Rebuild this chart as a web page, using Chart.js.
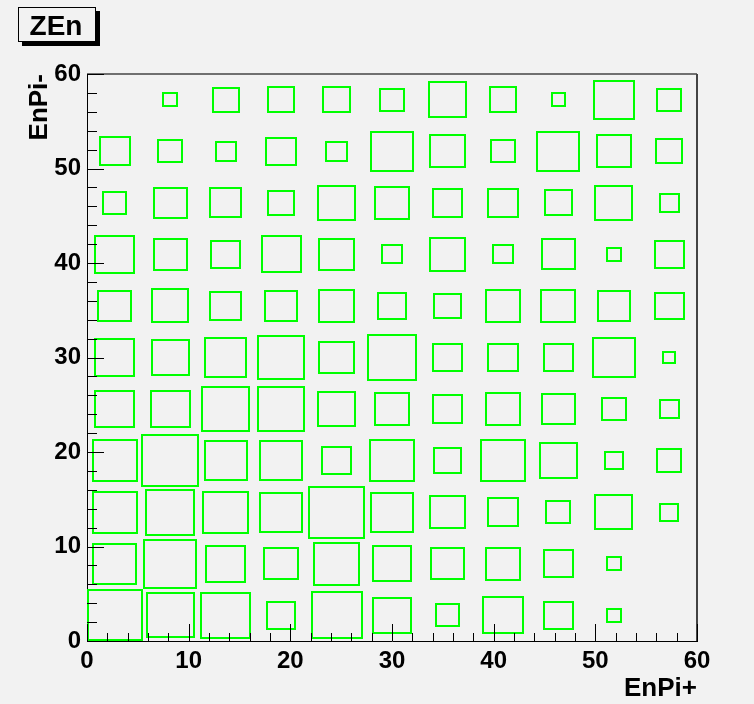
<!DOCTYPE html>
<html>
<head>
<meta charset="utf-8">
<script src="https://cdn.jsdelivr.net/npm/chart.js@4"></script>
<style>
  body { margin: 0; background: #f2f2f2; }
  #wrap { width: 754px; height: 704px; }
</style>
</head>
<body>
<div id="wrap"><canvas id="zen-chart"></canvas></div>
<script>
// Histogram ZEn: 11 x 11 bins on [0,60] x [0,60], box area ~ bin content
const xMin = 0, xMax = 60, nBinsX = 11;
const yMin = 0, yMax = 60, nBinsY = 11;
const xTicks = [0, 10, 20, 30, 40, 50, 60];
const yTicks = [0, 10, 20, 30, 40, 50, 60];

// bin contents, one array per EnPi- bin (bottom to top), columns along EnPi+
const rowY0  = [96, 72, 76, 27, 81, 45, 18, 50, 28,  6,  0];
const rowY1  = [61, 88, 49, 37, 66, 45, 35, 38, 28,  6,  0];
const rowY2  = [64, 76, 64, 58, 98, 58, 38, 28, 19, 45, 11];
const rowY3  = [64, 100, 58, 58, 27, 62, 23, 62, 45, 11, 19];
const rowY4  = [50, 50, 72, 71, 45, 38, 28, 38, 34, 18, 12];
const rowY5  = [50, 44, 56, 71, 38, 74, 27, 28, 28, 59,  5];
const rowY6  = [35, 41, 31, 32, 38, 27, 23, 38, 38, 32, 27];
const rowY7  = [50, 35, 28, 49, 38, 12, 40, 12, 34,  6, 27];
const rowY8  = [18, 35, 32, 22, 45, 38, 28, 28, 24, 45, 12];
const rowY9  = [30, 18, 13, 28, 14, 59, 38, 18, 58, 38, 22];
const rowY10 = [ 0,  6, 22, 23, 23, 18, 45, 23,  6, 53, 19];
const rows = [rowY0, rowY1, rowY2, rowY3, rowY4, rowY5, rowY6, rowY7, rowY8, rowY9, rowY10];

const binW = (xMax - xMin) / nBinsX;
const binH = (yMax - yMin) / nBinsY;

// one point per bin at the bin centre, content kept in v
const points = [];
rows.forEach((row, j) => {
    row.forEach((v, i) => {
        if (v > 0) {
            points.push({ x: xMin + (i + 0.5) * binW, y: yMin + (j + 0.5) * binH, v: v });
        }
    });
});
const vMax = Math.max(...rows.flat());

const fontTicks = { family: 'Liberation Sans, Arial, sans-serif', size: 24, weight: 'bold' };
const fontTitle = { family: 'Liberation Sans, Arial, sans-serif', size: 26, weight: 'bold' };

// draw boxes for each bin through the chart scales
const boxPlugin = {
    id: 'boxes',
    afterDatasetsDraw(chart) {
        const ctx = chart.ctx;
        const xs = chart.scales.x, ys = chart.scales.y;
        ctx.save();
        ctx.strokeStyle = '#00ff00';
        ctx.lineWidth = 2;
        chart.data.datasets[0].data.forEach(p => {
            const f = Math.sqrt(p.v / vMax);
            const x0 = Math.round(xs.getPixelForValue(p.x - binW / 2 * f));
            const x1 = Math.round(xs.getPixelForValue(p.x + binW / 2 * f));
            const y0 = Math.round(ys.getPixelForValue(p.y + binH / 2 * f));
            const y1 = Math.round(ys.getPixelForValue(p.y - binH / 2 * f));
            ctx.strokeRect(x0, y0, x1 - x0, y1 - y0);
        });
        ctx.restore();
    }
};

// ROOT style frame, inward ticks and title box
const framePlugin = {
    id: 'frame',
    afterDraw(chart) {
        const ctx = chart.ctx;
        const a = chart.chartArea;
        const xs = chart.scales.x, ys = chart.scales.y;
        ctx.save();
        // top and right frame
        ctx.strokeStyle = '#444';
        ctx.lineWidth = 1.5;
        ctx.beginPath();
        ctx.moveTo(a.left, a.top);
        ctx.lineTo(a.right, a.top);
        ctx.stroke();
        ctx.lineWidth = 2;
        ctx.beginPath();
        ctx.moveTo(a.right, a.top);
        ctx.lineTo(a.right, a.bottom);
        ctx.stroke();
        // ticks
        ctx.strokeStyle = '#000';
        ctx.lineWidth = 1;
        ctx.beginPath();
        for (let v = xMin; v <= xMax; v += 2) {
            const px = Math.round(xs.getPixelForValue(v)) + 0.5;
            const len = v % 10 === 0 ? 17 : 8;
            ctx.moveTo(px, a.bottom);
            ctx.lineTo(px, a.bottom - len);
        }
        for (let v = yMin; v <= yMax; v += 2) {
            const py = Math.round(ys.getPixelForValue(v)) + 0.5;
            const len = v % 10 === 0 ? 17 : 10;
            ctx.moveTo(a.left, py);
            ctx.lineTo(a.left + len, py);
        }
        ctx.stroke();
        // title box with shadow
        ctx.fillStyle = '#000';
        ctx.fillRect(22, 11, 78, 35);
        ctx.fillStyle = '#f2f2f2';
        ctx.fillRect(18, 7, 78, 35);
        ctx.strokeRect(18.5, 7.5, 77, 34);
        ctx.fillStyle = '#000';
        ctx.font = 'bold 28px Liberation Sans, Arial, sans-serif';
        ctx.textAlign = 'center';
        ctx.textBaseline = 'middle';
        ctx.fillText('ZEn', 56, 27);
        ctx.restore();
    }
};

new Chart(document.getElementById('zen-chart'), {
    type: 'scatter',
    data: {
        datasets: [{
            label: 'ZEn',
            data: points,
            pointRadius: 0,
            pointHoverRadius: 0
        }]
    },
    options: {
        responsive: true,
        maintainAspectRatio: false,
        animation: false,
        events: [],
        layout: { padding: { top: 74, right: 57, left: 0, bottom: 0 } },
        plugins: {
            legend: { display: false },
            tooltip: { enabled: false }
        },
        scales: {
            x: {
                type: 'linear',
                min: xMin,
                max: xMax,
                afterBuildTicks: scale => { scale.ticks = xTicks.map(v => ({ value: v })); },
                afterFit: scale => { scale.height = 63; },
                grid: { display: false, drawTicks: false },
                border: { display: true, color: '#000', width: 1 },
                ticks: { color: '#000', font: fontTicks, padding: 6, maxRotation: 0 },
                title: { display: true, text: 'EnPi+', align: 'end', color: '#000', font: fontTitle, padding: 0 }
            },
            y: {
                type: 'linear',
                min: yMin,
                max: yMax,
                afterBuildTicks: scale => { scale.ticks = yTicks.map(v => ({ value: v })); },
                afterFit: scale => { scale.width = 87; },
                grid: { display: false, drawTicks: false },
                border: { display: true, color: '#000', width: 1 },
                ticks: { color: '#000', font: fontTicks, padding: 6 },
                title: { display: true, text: 'EnPi-', align: 'end', color: '#000', font: fontTitle, padding: { top: 24, bottom: 0 } }
            }
        }
    },
    plugins: [boxPlugin, framePlugin]
});
</script>
</body>
</html>
